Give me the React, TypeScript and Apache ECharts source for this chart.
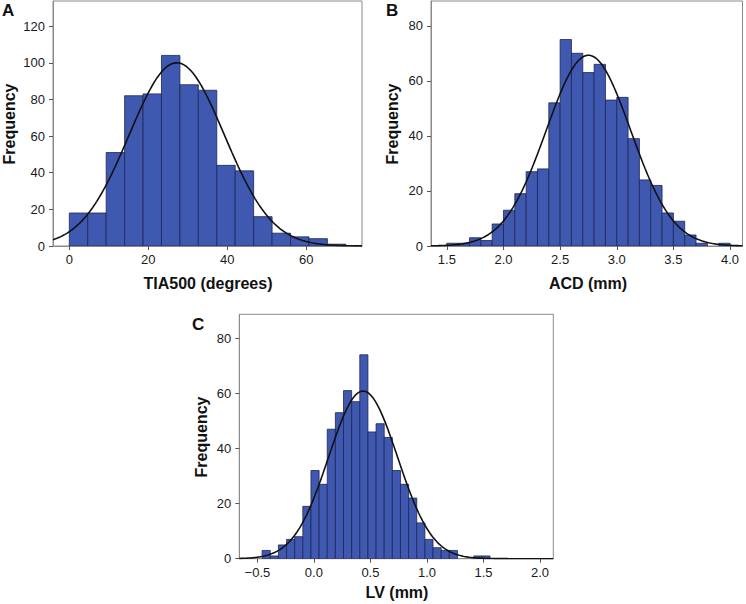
import React, { useEffect, useRef } from "react";
import * as echarts from "echarts";

// Panel A: TIA500 (degrees)
const tiaBinStart = 0;
const tiaBinWidth = 4.667;
const tiaCounts = [18, 18, 51, 82, 83, 104, 88, 85, 44, 41, 16, 7, 5, 4, 1];
const tiaMean = 27.2;
const tiaSd = 12.05;
const tiaXTicks = [0, 20, 40, 60];
const tiaYTicks = [0, 20, 40, 60, 80, 100, 120];

// Panel B: ACD (mm)
const acdBinStart = 1.5;
const acdBinWidth = 0.1;
const acdCounts = [1, 1, 3, 2, 8, 13, 19, 27, 28, 52, 75, 70, 63, 66, 53, 54, 39, 24, 22, 12, 9, 4, 1, 0, 1];
const acdMean = 2.75;
const acdSd = 0.3725;
const acdXTicks = [1.5, 2.0, 2.5, 3.0, 3.5, 4.0];
const acdYTicks = [0, 20, 40, 60, 80];

// Panel C: LV (mm)
const lvBinStart = -0.458;
const lvBinWidth = 0.072;
const lvCounts = [3, 1, 5, 7, 8, 19, 32, 27, 47, 53, 61, 57, 74, 46, 49, 44, 32, 27, 22, 13, 7, 4, 3, 3, 0, 0, 1, 1];
const lvMean = 0.435;
const lvSd = 0.305;
const lvXTicks = [-0.5, 0.0, 0.5, 1.0, 1.5, 2.0];
const lvYTicks = [0, 20, 40, 60, 80];

const FONT = "Liberation Sans, Arial, sans-serif";
const BAR_FILL = "#3f59b0";
const BAR_STROKE = "#1d2654";
const FRAME = "#8a8a8a";

function binData(start: number, width: number, counts: number[]) {
  return counts.map((c, i) => [start + i * width, start + (i + 1) * width, c]);
}

function normalCurve(mean: number, sd: number, n: number, width: number, xmin: number, xmax: number) {
  const pts: number[][] = [];
  const steps = 240;
  for (let i = 0; i <= steps; i++) {
    const x = xmin + ((xmax - xmin) * i) / steps;
    const z = (x - mean) / sd;
    const y = (n * width * Math.exp(-0.5 * z * z)) / (sd * Math.sqrt(2 * Math.PI));
    pts.push([x, y]);
  }
  return pts;
}

const sum = (a: number[]) => a.reduce((s, v) => s + v, 0);

export default function App() {
  const ref = useRef<HTMLDivElement>(null);
  useEffect(() => {
    document.body.style.margin = "0";
    if (!ref.current) return;
    const chart = echarts.init(ref.current, undefined, { renderer: "svg" });

    const panels = [
      {
        grid: { left: 53, top: 1, width: 309, height: 245 },
        xmin: -4.13, xmax: 74.1, ymax: 133.7,
        start: tiaBinStart, width: tiaBinWidth, counts: tiaCounts, mean: tiaMean, sd: tiaSd,
        xTicks: tiaXTicks, yTicks: tiaYTicks, decimals: 0,
      },
      {
        grid: { left: 431, top: 1, width: 311.5, height: 245 },
        xmin: 1.36, xmax: 4.11, ymax: 89.0,
        start: acdBinStart, width: acdBinWidth, counts: acdCounts, mean: acdMean, sd: acdSd,
        xTicks: acdXTicks, yTicks: acdYTicks, decimals: 1,
      },
      {
        grid: { left: 239.3, top: 314.3, width: 314, height: 244.4 },
        xmin: -0.66, xmax: 2.118, ymax: 88.7,
        start: lvBinStart, width: lvBinWidth, counts: lvCounts, mean: lvMean, sd: lvSd,
        xTicks: lvXTicks, yTicks: lvYTicks, decimals: 1,
      },
    ];

    const grids: any[] = [];
    const xAxes: any[] = [];
    const yAxes: any[] = [];
    const series: any[] = [];

    panels.forEach((p, idx) => {
      grids.push({
        ...p.grid,
        show: true,
        borderColor: FRAME,
        borderWidth: 1,
        backgroundColor: "#ffffff",
        containLabel: false,
      });
      xAxes.push({
        type: "value",
        gridIndex: idx,
        position: "bottom",
        min: p.xmin,
        max: p.xmax,
        splitLine: { show: false },
        axisLine: { show: true, onZero: false, lineStyle: { color: FRAME, width: 1 } },
        axisTick: { show: true, length: 4, customValues: p.xTicks, lineStyle: { color: "#555" } },
        axisLabel: {
          show: true,
          customValues: p.xTicks,
          margin: 7,
          color: "#1a1a1a",
          fontFamily: FONT,
          fontSize: 13,
          formatter: (v: number) => v.toFixed(p.decimals).replace("-", "\u2212"),
        },
      });
      yAxes.push({
        type: "value",
        gridIndex: idx,
        position: "left",
        min: 0,
        max: p.ymax,
        splitLine: { show: false },
        axisLine: { show: true, onZero: false, lineStyle: { color: FRAME, width: 1 } },
        axisTick: { show: true, length: 4, customValues: p.yTicks, lineStyle: { color: "#555" } },
        axisLabel: {
          show: true,
          customValues: p.yTicks,
          margin: 8,
          color: "#1a1a1a",
          fontFamily: FONT,
          fontSize: 13,
          formatter: (v: number) => String(v),
        },
      });
      series.push({
        type: "custom",
        xAxisIndex: idx,
        yAxisIndex: idx,
        clip: true,
        encode: { x: [0, 1], y: 2 },
        data: binData(p.start, p.width, p.counts),
        renderItem: (params: any, api: any) => {
          const x0 = api.value(0);
          const x1 = api.value(1);
          const y = api.value(2);
          if (!y) return null;
          const a = api.coord([x0, y]);
          const b = api.coord([x1, 0]);
          return {
            type: "rect",
            shape: { x: a[0], y: a[1], width: b[0] - a[0], height: b[1] - a[1] },
            style: { fill: BAR_FILL, stroke: BAR_STROKE, lineWidth: 0.8 },
          };
        },
        z: 2,
      });
      series.push({
        type: "line",
        xAxisIndex: idx,
        yAxisIndex: idx,
        data: normalCurve(p.mean, p.sd, sum(p.counts), p.width, p.xmin, p.xmax),
        showSymbol: false,
        symbol: "none",
        smooth: false,
        clip: true,
        lineStyle: { color: "#111", width: 1.6 },
        z: 3,
      });
    });

    const textStyle = (t: string) => ({
      text: t,
      fill: "#111",
      font: `bold 16px ${FONT}`,
      textAlign: "center",
      textVerticalAlign: "middle",
    });

    const graphic: any[] = [
      { type: "text", left: 2, top: 2, style: { text: "A", fill: "#111", font: `bold 17px ${FONT}` } },
      { type: "text", left: 386, top: 2, style: { text: "B", fill: "#111", font: `bold 17px ${FONT}` } },
      { type: "text", left: 192, top: 316, style: { text: "C", fill: "#111", font: `bold 17px ${FONT}` } },
      { type: "text", x: 9, y: 124, rotation: Math.PI / 2, style: textStyle("Frequency") },
      { type: "text", x: 392.5, y: 124, rotation: Math.PI / 2, style: textStyle("Frequency") },
      { type: "text", x: 201, y: 437, rotation: Math.PI / 2, style: textStyle("Frequency") },
      { type: "text", x: 208, y: 283, style: textStyle("TIA500 (degrees)") },
      { type: "text", x: 588, y: 283, style: textStyle("ACD (mm)") },
      { type: "text", x: 397, y: 592, style: textStyle("LV (mm)") },
    ];

    chart.setOption({
      animation: false,
      backgroundColor: "#ffffff",
      grid: grids,
      xAxis: xAxes,
      yAxis: yAxes,
      series,
      graphic,
    });
    return () => chart.dispose();
  }, []);
  return <div ref={ref} style={{ width: 746, height: 604 }} />;
}
